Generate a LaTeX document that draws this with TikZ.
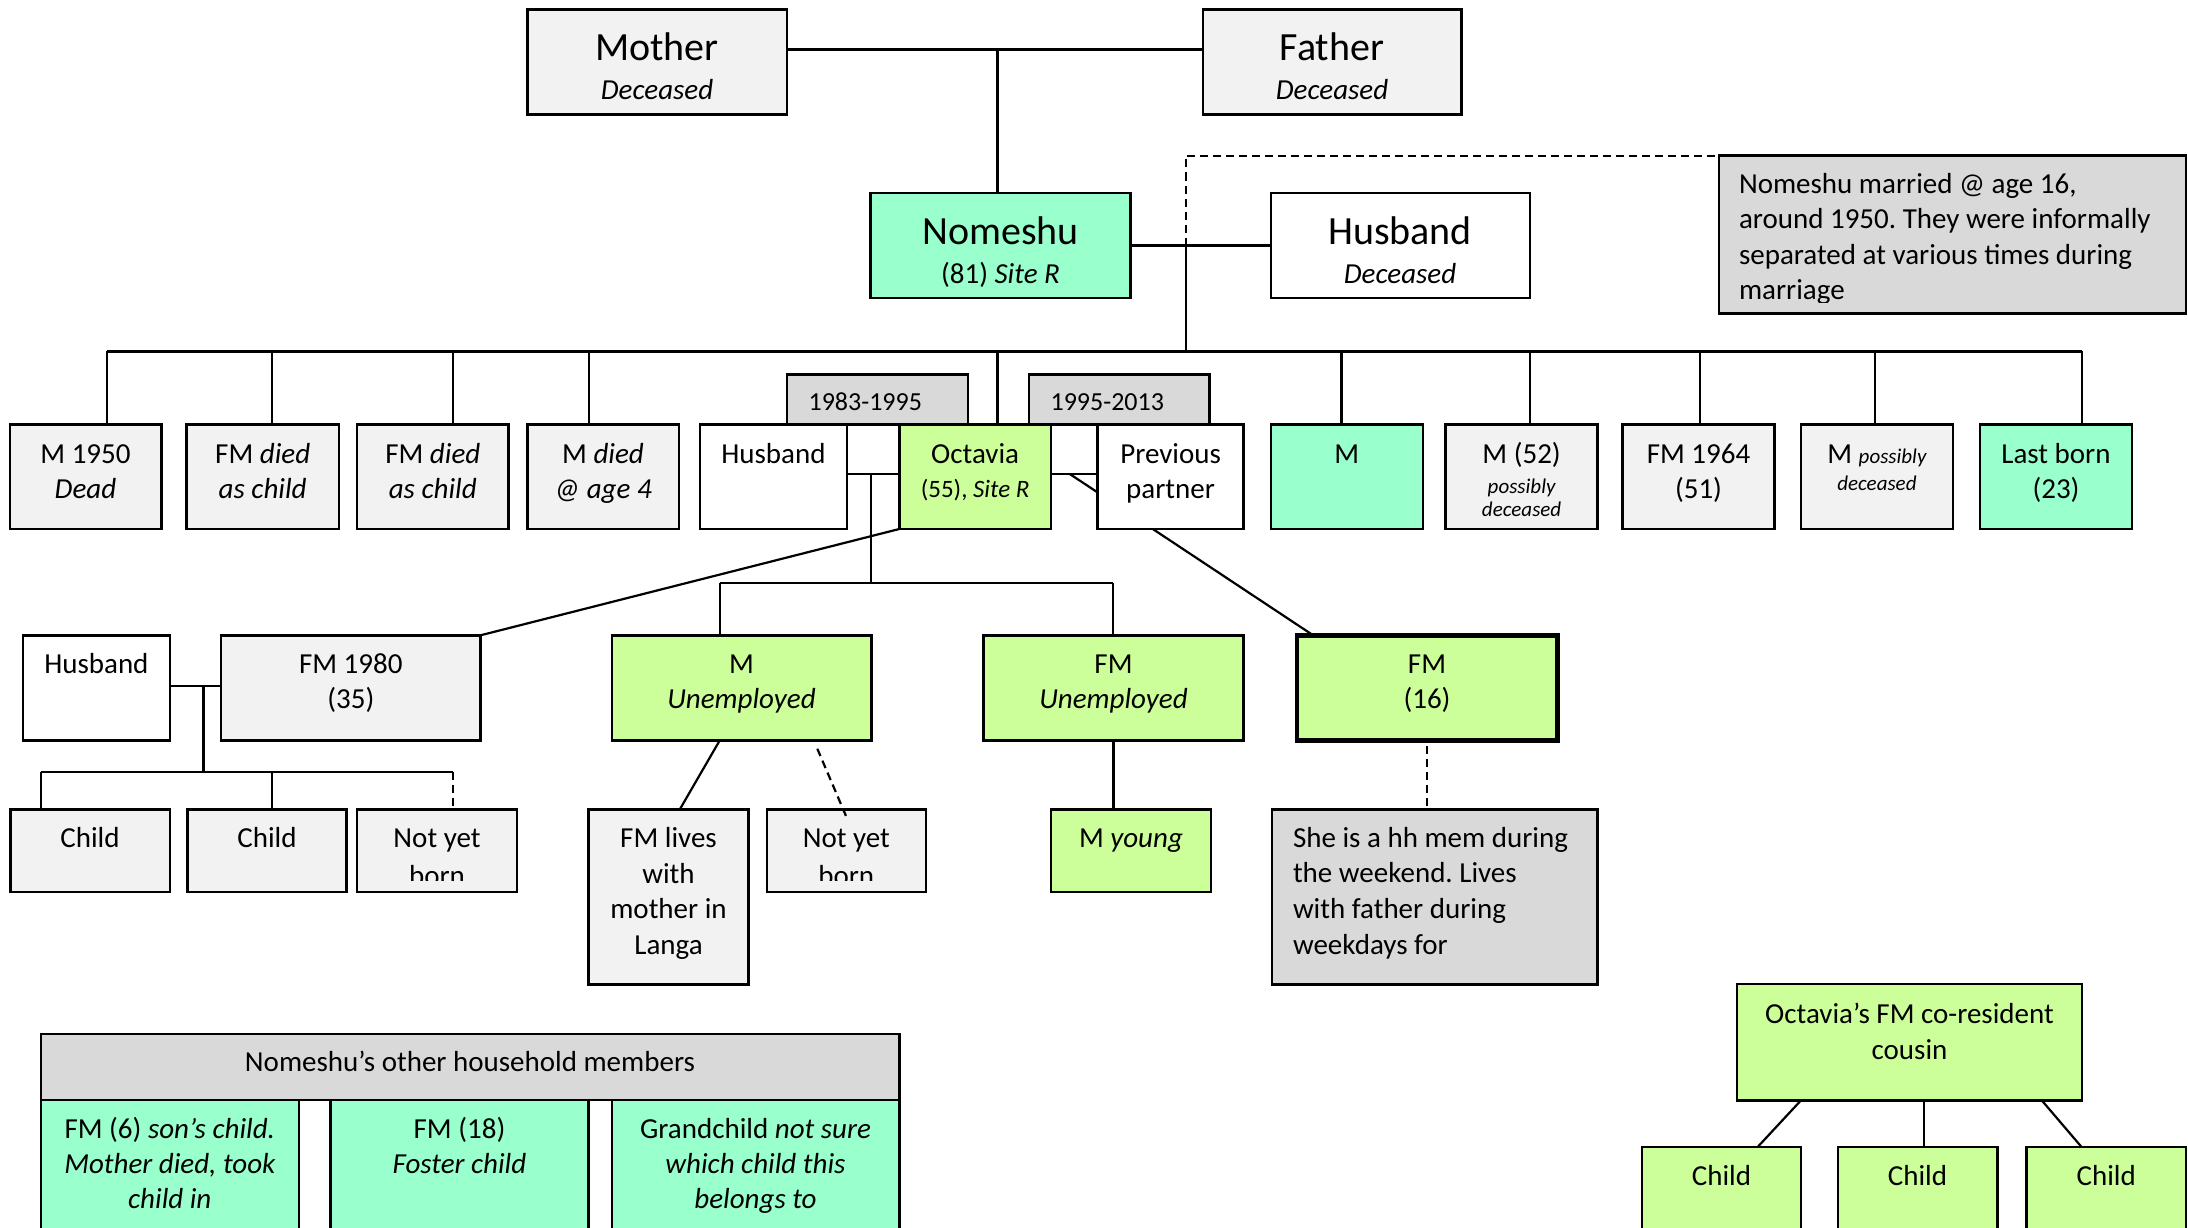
\documentclass[tikz,border=0pt]{standalone}
\usepackage{fontspec}
\setmainfont{Carlito}
\usetikzlibrary{fit,backgrounds}
\frenchspacing
\definecolor{boxgray}{HTML}{F2F2F2}
\definecolor{notegray}{HTML}{D9D9D9}
\definecolor{mint}{HTML}{99FFCC}
\definecolor{lime}{HTML}{CCFF99}
\newcommand\fBig{\fontsize{40}{48}\selectfont}
\newcommand\fMed{\fontsize{29}{35.7}\selectfont}
\newcommand\fLab{\fontsize{26}{31}\selectfont}
\newcommand\fSite{\fontsize{25}{30}\selectfont}
\newcommand\fTiny{\fontsize{21}{25}\selectfont}
% a box spanning (x1,y1)-(x2,y2)
\newcommand\bx[6]{\node[#1, fit={(#3,#4) (#5,#6)}] (#2) {};}
% one line of text, centred or left-aligned on its baseline
\newcommand\tcen[5]{\node[txt, anchor=base, font=#4] (#1) at (#2,#3) {#5};}
\newcommand\tlft[5]{\node[txt, anchor=base west, font=#4] (#1) at (#2,#3) {#5};}
\begin{document}
\begin{tikzpicture}[x=1pt,y=-1pt,
  box/.style={draw=black, line width=2.4pt, inner sep=0pt, outer sep=0pt},
  gbox/.style={box, fill=boxgray},
  nbox/.style={box, fill=notegray},
  mbox/.style={box, fill=mint},
  lbox/.style={box, fill=lime},
  wbox/.style={box, fill=white},
  txt/.style={inner sep=0pt, outer sep=0pt},
  conn/.style={draw=black, line width=2.2pt},
  busline/.style={draw=black, line width=3pt},
  dsh/.style={conn, dash pattern=on 8pt off 5pt}]
\useasboundingbox (0,0) rectangle (2188,1228);
\clip (0,0) rectangle (2188,1228);

% ---------- parents, Nomeshu and her husband ----------
\bx{gbox}{mother}{527.5}{9.6}{787}{114.6}
\bx{gbox}{father}{1202.7}{9.6}{1461.5}{114.6}
\bx{mbox}{nomeshu}{870.6}{193.2}{1130.5}{297.9}
\bx{wbox}{husbT}{1270.7}{193.2}{1530}{297.9}
\bx{nbox}{note1}{1719}{155.7}{2186}{313.6}

\tcen{motherA}{657}{60.7}{\fBig}{Mother}
\tcen{motherB}{657}{99.5}{\fMed\itshape}{Deceased}
\tcen{fatherA}{1332}{60.7}{\fBig}{Father}
\tcen{fatherB}{1332}{99.5}{\fMed\itshape}{Deceased}
\tcen{nomA}{1000.5}{244}{\fBig}{Nomeshu}
\tcen{nomB}{1000.5}{283.5}{\fMed}{(81) \textit{Site R}}
\tcen{husTA}{1400}{244}{\fBig}{Husband}
\tcen{husTB}{1400}{283.5}{\fMed\itshape}{Deceased}
\begin{scope}
  \clip (1719,155.7) rectangle (2186,302);
  \tlft{noteA}{1739}{193.9}{\fMed}{Nomeshu married @ age 16,}
  \tlft{noteB}{1739}{228.9}{\fMed}{around 1950. They were informally}
  \tlft{noteC}{1739}{264.1}{\fMed}{separated at various times during}
  \tlft{noteD}{1739}{299.3}{\fMed}{marriage}
\end{scope}

% ---------- Nomeshu's children ----------
\bx{gbox}{s1}{9.8}{424.3}{161.3}{529}
\bx{gbox}{s2}{186.6}{424.3}{338.8}{529}
\bx{gbox}{s3}{357}{424.3}{508.6}{529}
\bx{gbox}{s4}{527.5}{424.3}{679}{529}
\bx{nbox}{yrA}{787}{374.6}{968}{424.3}
\bx{nbox}{yrB}{1029}{374.6}{1209.6}{424.3}
\bx{wbox}{husb2}{700}{424.3}{846.7}{529}
\bx{lbox}{oct}{899.3}{424.3}{1050.9}{529}
\bx{wbox}{pp}{1097.6}{424.3}{1243.6}{529}
\bx{mbox}{s6}{1270.7}{424.3}{1422.7}{529}
\bx{gbox}{s7}{1445.6}{424.3}{1597.6}{529}
\bx{gbox}{s8}{1622.6}{424.3}{1774.5}{529}
\bx{gbox}{s9}{1800.9}{424.3}{1952.9}{529}
\bx{mbox}{s10}{1980}{424.3}{2131.9}{529}

\tcen{s1a}{85.5}{463}{\fMed}{M 1950}
\tcen{s1b}{85.5}{498.5}{\fMed\itshape}{Dead}
\tcen{s2a}{262.7}{463}{\fMed}{FM \textit{died}}
\tcen{s2b}{262.7}{498.5}{\fMed\itshape}{as child}
\tcen{s3a}{432.8}{463}{\fMed}{FM \textit{died}}
\tcen{s3b}{432.8}{498.5}{\fMed\itshape}{as child}
\tcen{s4a}{603}{463}{\fMed}{M \textit{died}}
\tcen{s4b}{603}{498.5}{\fMed\itshape}{@ age 4}
\tlft{yrAt}{808.6}{410}{\fLab}{1983-1995}
\tlft{yrBt}{1050.6}{410}{\fLab}{1995-2013}
\tcen{husb2a}{773.4}{463}{\fMed}{Husband}
\tcen{octa}{975.1}{463}{\fMed}{Octavia}
\tcen{octb}{975.1}{497}{\fSite}{(55), \textit{Site R}}
\tcen{ppa}{1170.6}{463}{\fMed}{Previous}
\tcen{ppb}{1170.6}{498.5}{\fMed}{partner}
\tcen{s6a}{1346.7}{463}{\fMed}{M}
\tcen{s7a}{1521.6}{463}{\fMed}{M (52)}
\tcen{s7b}{1521.6}{493}{\fTiny\itshape}{possibly}
\tcen{s7c}{1521.6}{516}{\fTiny\itshape}{deceased}
\tcen{s8a}{1698.5}{463}{\fMed}{FM 1964}
\tcen{s8b}{1698.5}{498.5}{\fMed}{(51)}
\tcen{s9a}{1876.9}{463}{\fMed}{M {\fTiny\itshape possibly}}
\tcen{s9b}{1876.9}{490}{\fTiny\itshape}{deceased}
\tcen{s10a}{2056}{463}{\fMed}{Last born}
\tcen{s10b}{2056}{498.5}{\fMed}{(23)}

% ---------- Octavia's children and grandchildren ----------
\bx{wbox}{husb3}{23}{635.3}{169.8}{740.3}
\bx{gbox}{fm80}{221}{635.3}{480.5}{740.3}
\bx{lbox}{mu}{611.7}{635.3}{871.3}{740.3}
\bx{lbox}{fmu}{983.5}{635.3}{1243.6}{740.3}
\bx{lbox,line width=4.5pt}{fm16}{1297}{635.3}{1557.3}{740.3}

\tcen{husb3a}{96.4}{673}{\fMed}{Husband}
\tcen{fm80a}{350.8}{673}{\fMed}{FM 1980}
\tcen{fm80b}{350.8}{708.7}{\fMed}{(35)}
\tcen{mua}{741.5}{673}{\fMed}{M}
\tcen{mub}{741.5}{708.7}{\fMed\itshape}{Unemployed}
\tcen{fmua}{1113.5}{673}{\fMed}{FM}
\tcen{fmub}{1113.5}{708.7}{\fMed\itshape}{Unemployed}
\tcen{fm16a}{1427}{673}{\fMed}{FM}
\tcen{fm16b}{1427}{708.7}{\fMed}{(16)}

\bx{gbox}{ch1}{10.5}{809.3}{169.8}{891.7}
\bx{gbox}{ch2}{187.3}{809.3}{346.5}{891.7}
\bx{gbox}{nyb1}{357}{809.3}{517}{891.7}
\bx{gbox}{fml}{588.6}{809.3}{748.5}{984.3}
\bx{gbox}{nyb2}{766.7}{809.3}{926}{891.7}
\bx{lbox}{my}{1050.7}{809.3}{1211}{891.7}
\bx{nbox}{note2}{1272}{809.3}{1597.6}{984.3}

\tcen{ch1a}{90}{847.5}{\fMed}{Child}
\tcen{ch2a}{267}{847.5}{\fMed}{Child}
\begin{scope}
  \clip (357,809.3) rectangle (517,880.5);
  \tcen{nyb1a}{437}{847.5}{\fMed}{Not yet}
  \tcen{nyb1b}{437}{885.5}{\fMed}{born}
\end{scope}
\begin{scope}
  \clip (766.7,809.3) rectangle (926,880.5);
  \tcen{nyb2a}{846.3}{847.5}{\fMed}{Not yet}
  \tcen{nyb2b}{846.3}{885.5}{\fMed}{born}
\end{scope}
\tcen{fmla}{668.5}{847.5}{\fMed}{FM lives}
\tcen{fmlb}{668.5}{883}{\fMed}{with}
\tcen{fmlc}{668.5}{918.6}{\fMed}{mother in}
\tcen{fmld}{668.5}{954.3}{\fMed}{Langa}
\tcen{mya}{1131}{847.5}{\fMed}{M \textit{young}}
\tlft{n2a}{1293}{847}{\fMed}{She is a hh mem during}
\tlft{n2b}{1293}{882.7}{\fMed}{the weekend. Lives}
\tlft{n2c}{1293}{918.4}{\fMed}{with father during}
\tlft{n2d}{1293}{954.1}{\fMed}{weekdays for}

% ---------- Octavia's cousin ----------
\bx{lbox}{cous}{1737}{984}{2082}{1100.3}
\bx{lbox}{ck1}{1642}{1146.7}{1801}{1245}
\bx{lbox}{ck2}{1837.7}{1146.7}{1997.3}{1245}
\bx{lbox}{ck3}{2026.4}{1146.7}{2186}{1245}
\tcen{cousa}{1909.5}{1023.3}{\fMed}{Octavia’s FM co-resident}
\tcen{cousb}{1909.5}{1059}{\fMed}{cousin}
\tcen{ck1a}{1721.5}{1185}{\fMed}{Child}
\tcen{ck2a}{1917.5}{1185}{\fMed}{Child}
\tcen{ck3a}{2106.2}{1185}{\fMed}{Child}

% ---------- other household members ----------
\bx{nbox}{hh}{40.7}{1034}{899.3}{1100}
\bx{mbox}{hh1}{40.7}{1100}{298.8}{1245}
\bx{mbox}{hh2}{330.4}{1100}{588.6}{1245}
\bx{mbox}{hh3}{611.7}{1100}{899.3}{1245}
\tcen{hha}{470}{1071.7}{\fMed}{Nomeshu’s other household members}
\tcen{hh1a}{169.8}{1138.3}{\fMed}{FM (6) \textit{son’s child.}}
\tcen{hh1b}{169.8}{1173.3}{\fMed\itshape}{Mother died, took}
\tcen{hh1c}{169.8}{1208.3}{\fMed\itshape}{child in}
\tcen{hh2a}{459.5}{1138.3}{\fMed}{FM (18)}
\tcen{hh2b}{459.5}{1173.3}{\fMed\itshape}{Foster child}
\tcen{hh3a}{755.5}{1138.3}{\fMed}{Grandchild \textit{not sure}}
\tcen{hh3b}{755.5}{1173.3}{\fMed\itshape}{which child this}
\tcen{hh3c}{755.5}{1208.3}{\fMed\itshape}{belongs to}

% dashed link to the unborn child, drawn over the box edge
\draw[dsh] ([xshift=75.8pt,yshift=-8.4pt]mu.south) -- ([yshift=-7.5pt]nyb2.north);

% ---------- connectors ----------
\begin{pgfonlayer}{background}
  % parents to Nomeshu
  \coordinate (mf) at (997.5,49.6);
  \draw[conn,line width=2.8pt] (mother.east |- mf) -- (father.west |- mf);
  \draw[conn] (mf) -- (mf |- nomeshu.north);
  % Nomeshu's marriage
  \draw[conn] (nomeshu.east) -- (husbT.west);
  \coordinate (nh) at (1186,245.5);
  \coordinate (bus) at (1186,351);
  \draw[conn] (nh) -- (bus);
  \draw[dsh] (nh) -- (nh |- note1.north) -- (note1.north west);
  % sibling line
  \coordinate (d1) at (106.6,351);
  \coordinate (d2) at (272.2,351);
  \coordinate (d3) at (453.2,351);
  \coordinate (d4) at (588.6,351);
  \coordinate (d5) at (997.5,351);
  \coordinate (d6) at (1341.5,351);
  \coordinate (d7) at (1530.3,351);
  \coordinate (d8) at (1700.3,351);
  \coordinate (d9) at (1875.2,351);
  \coordinate (d10) at (2082,351);
  \draw[busline] (d1) -- (d10);
  \draw[conn] (d1) -- (d1 |- s1.north);
  \draw[conn] (d2) -- (d2 |- s2.north);
  \draw[conn] (d3) -- (d3 |- s3.north);
  \draw[conn] (d4) -- (d4 |- s4.north);
  \draw[conn] (d5) -- (d5 |- oct.north);
  \draw[conn] (d6) -- (d6 |- s6.north);
  \draw[conn] (d7) -- (d7 |- s7.north);
  \draw[conn] (d8) -- (d8 |- s8.north);
  \draw[conn] (d9) -- (d9 |- s9.north);
  \draw[conn] (d10) -- (d10 |- s10.north);
  % Octavia and her husband
  \coordinate (ho) at (871,474);
  \draw[conn] (husb2.east |- ho) -- (oct.west |- ho);
  \coordinate (kb) at (871,582.7);
  \coordinate (kL) at (720,582.7);
  \coordinate (kR) at (1112.7,582.7);
  \draw[conn] (ho) -- (kb);
  \draw[conn] (kL) -- (kR);
  \draw[conn] (kL) -- (kL |- mu.north);
  \draw[conn] (kR) -- (kR |- fmu.north);
  % Octavia and her previous partner
  \coordinate (op) at (1069.8,474);
  \draw[conn] (oct.east |- op) -- (pp.west |- op);
  \draw[conn] (op) -- ([xshift=-114pt]fm16.north);
  % Octavia's first child
  \draw[conn] (oct.south west) -- (fm80.north east);
  % FM 1980 and her husband
  \coordinate (hf) at (203.4,686.3);
  \coordinate (cb) at (203.4,771.7);
  \coordinate (c1) at (40.7,771.7);
  \coordinate (c2) at (272.2,771.7);
  \coordinate (c3) at (453.2,771.7);
  \draw[conn] (husb3.east |- hf) -- (fm80.west |- hf);
  \draw[conn] (hf) -- (cb);
  \draw[conn] (c1) -- (c3);
  \draw[conn] (c1) -- (c1 |- ch1.north);
  \draw[conn] (c2) -- (c2 |- ch2.north);
  \draw[dsh] (c3) -- (c3 |- nyb1.north);
  % grandchildren
  \draw[conn] ([xshift=-21.7pt]mu.south) -- ([xshift=11.3pt]fml.north);
  \draw[conn] (fmu.south) -- (fmu.south |- my.north);
  \draw[dsh] ([yshift=-5.7pt]fm16.south) -- (fm16.south |- note2.north);
  % cousin's children
  \draw[conn] ([xshift=-108.5pt]cous.south) -- ([xshift=36.4pt]ck1.north);
  \draw[conn] ([xshift=14.2pt]cous.south) -- ([xshift=6.2pt]ck2.north);
  \draw[conn] ([xshift=132.2pt]cous.south) -- ([xshift=-24.9pt]ck3.north);
\end{pgfonlayer}
\end{tikzpicture}
\end{document}
